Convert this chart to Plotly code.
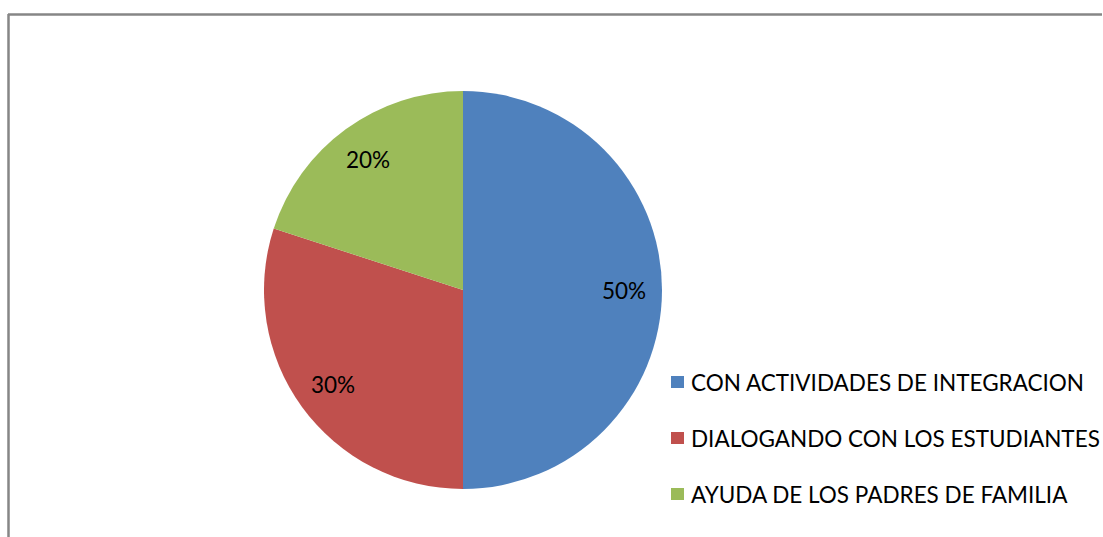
import math
import plotly.graph_objects as go

# data
labels = ["CON ACTIVIDADES DE INTEGRACION", "DIALOGANDO CON LOS ESTUDIANTES", "AYUDA DE LOS PADRES DE FAMILIA"]
values = [50, 30, 20]
colors = ["#4F81BD", "#C0504D", "#9BBB59"]

W, H = 1103, 537
FONT = "Lato"

# pie geometry in px
cx, cy, r = 463, 290, 199

fig = go.Figure(go.Pie(
    labels=labels,
    values=values,
    sort=False,
    direction="clockwise",
    rotation=0,
    marker=dict(colors=colors, line=dict(width=0)),
    textinfo="none",
    hoverinfo="label+percent",
    showlegend=False,
    domain=dict(x=[(cx - r) / W, (cx + r) / W], y=[1 - (cy + r) / H, 1 - (cy - r) / H]),
))

# percentage labels, placed at ~0.81 of the radius along each slice's mid-angle
total = sum(values)
cum = 0
annotations = []
for v in values:
    mid = (cum + v / 2) / total * 2 * math.pi
    cum += v
    px_ = cx + 0.81 * r * math.sin(mid)
    py_ = cy - 0.81 * r * math.cos(mid)
    annotations.append(dict(
        x=px_ / W, y=1 - py_ / H, xref="paper", yref="paper",
        text="%d%%" % round(v / total * 100), showarrow=False,
        font=dict(family=FONT, size=22.5, color="#000000"),
        xanchor="center", yanchor="middle",
    ))

# legend drawn by hand
shapes = []
leg_x, leg_y0, leg_dy = 671, 382, 56
for i, (lab, col) in enumerate(zip(labels, colors)):
    yy = leg_y0 + i * leg_dy
    shapes.append(dict(type="rect", xref="paper", yref="paper",
                       x0=leg_x / W, x1=(leg_x + 13) / W,
                       y0=1 - (yy + 6) / H, y1=1 - (yy - 6) / H,
                       fillcolor=col, line=dict(width=0)))
    annotations.append(dict(
        x=689 / W, y=1 - yy / H, xref="paper", yref="paper",
        text=lab, showarrow=False, xanchor="left", yanchor="middle",
        font=dict(family=FONT, size=22.5, color="#000000"),
    ))

# chart-area border (top and left edges visible)
shapes.append(dict(type="line", xref="paper", yref="paper",
                   x0=8 / W, x1=1102 / W, y0=1 - 14.5 / H, y1=1 - 14.5 / H,
                   line=dict(color="#868686", width=2.5)))
shapes.append(dict(type="line", xref="paper", yref="paper",
                   x0=8.5 / W, x1=8.5 / W, y0=1 - 14 / H, y1=0,
                   line=dict(color="#868686", width=2.5)))

fig.update_layout(
    width=W, height=H,
    margin=dict(l=0, r=0, t=0, b=0),
    paper_bgcolor="white",
    plot_bgcolor="white",
    annotations=annotations,
    shapes=shapes,
)

# drop the page's default body margin so the figure sits at the window origin
fig.write_html("out.html", config={"displayModeBar": False},
               post_script="document.body.style.margin='0';")
